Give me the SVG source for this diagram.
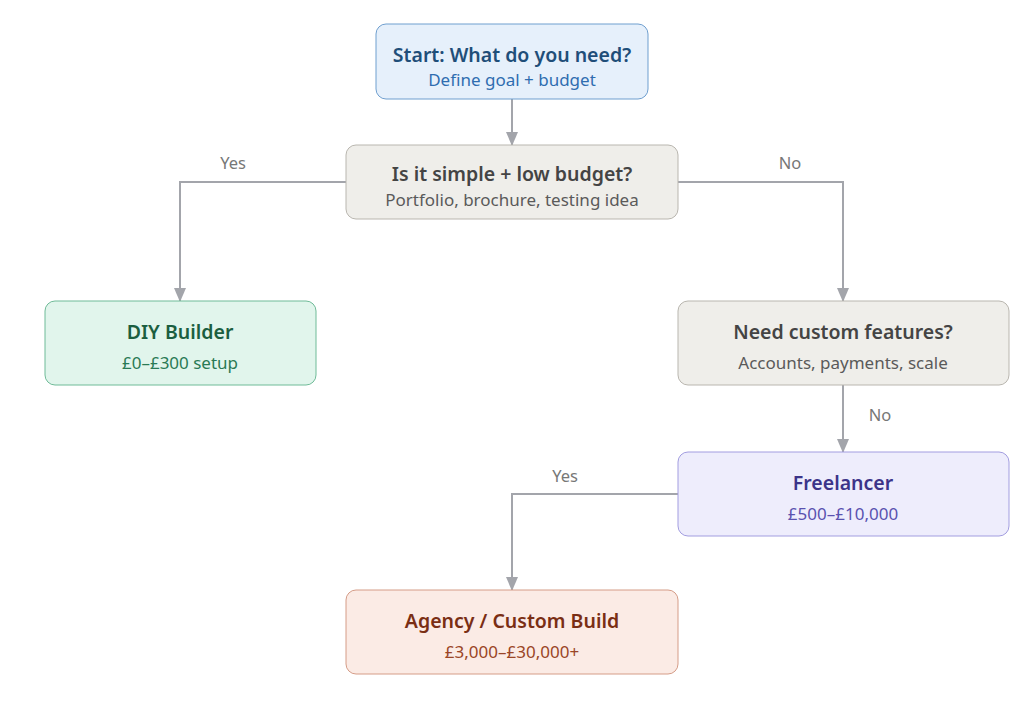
<svg xmlns="http://www.w3.org/2000/svg" width="1024" height="708" viewBox="0 0 1024 708">
<style>
.t{font-family:"Noto Sans","Open Sans","Liberation Sans",sans-serif;font-size:19.5px;font-weight:600;text-anchor:middle}
.s{font-family:"Noto Sans","Open Sans","Liberation Sans",sans-serif;font-size:17px;text-anchor:middle}
.l{font-family:"Noto Sans","Open Sans","Liberation Sans",sans-serif;font-size:16.5px;fill:#777;text-anchor:middle}
.c{fill:none;stroke:#a3a5ab;stroke-width:2;marker-end:url(#a)}
</style>
<defs>
<marker id="a" markerWidth="14" markerHeight="12" refX="13" refY="6" orient="auto" markerUnits="userSpaceOnUse">
<path d="M0,0 L14,6 L0,12 Z" fill="#a3a5ab"/>
</marker>
</defs>
<rect width="1024" height="708" fill="#ffffff"/>
<g id="connectors">
<path class="c" d="M512,99 V145"/>
<path class="c" d="M346,182 H180 V301"/>
<path class="c" d="M678,182 H843 V301"/>
<path class="c" d="M843,385 V452"/>
<path class="c" d="M678,494 H512 V590"/>
<text class="l" x="233" y="169">Yes</text>
<text class="l" x="790" y="169">No</text>
<text class="l" x="880" y="421">No</text>
<text class="l" x="565" y="482">Yes</text>
</g>
<g id="start">
<rect x="376" y="24" width="272" height="75" rx="10" fill="#e6f0fb" stroke="#6f9fcf" stroke-width="1"/>
<text class="t" x="512" y="62" fill="#1f4e79">Start: What do you need?</text>
<text class="s" x="512" y="86" fill="#2f6db0">Define goal + budget</text>
</g>
<g id="decision1">
<rect x="346" y="145" width="332" height="74" rx="10" fill="#efeeea" stroke="#b9b6af" stroke-width="1"/>
<text class="t" x="512" y="181" fill="#444444">Is it simple + low budget?</text>
<text class="s" x="512" y="206" fill="#5a5a5a">Portfolio, brochure, testing idea</text>
</g>
<g id="diy">
<rect x="45" y="301" width="271" height="84" rx="10" fill="#e1f5ec" stroke="#6fbb98" stroke-width="1"/>
<text class="t" x="180" y="339" fill="#1b5e40">DIY Builder</text>
<text class="s" x="180" y="369" fill="#2a7a55">£0–£300 setup</text>
</g>
<g id="decision2">
<rect x="678" y="301" width="331" height="84" rx="10" fill="#efeeea" stroke="#b9b6af" stroke-width="1"/>
<text class="t" x="843" y="339" fill="#444444">Need custom features?</text>
<text class="s" x="843" y="369" fill="#5a5a5a">Accounts, payments, scale</text>
</g>
<g id="freelancer">
<rect x="678" y="452" width="331" height="84" rx="10" fill="#eeedfc" stroke="#a29de0" stroke-width="1"/>
<text class="t" x="843" y="490" fill="#3c3489">Freelancer</text>
<text class="s" x="843" y="520" fill="#5a52b0">£500–£10,000</text>
</g>
<g id="agency">
<rect x="346" y="590" width="332" height="84" rx="10" fill="#fbebe5" stroke="#d59c87" stroke-width="1"/>
<text class="t" x="512" y="628" fill="#7a2e14">Agency / Custom Build</text>
<text class="s" x="512" y="658" fill="#9a4526">£3,000–£30,000+</text>
</g>
</svg>
